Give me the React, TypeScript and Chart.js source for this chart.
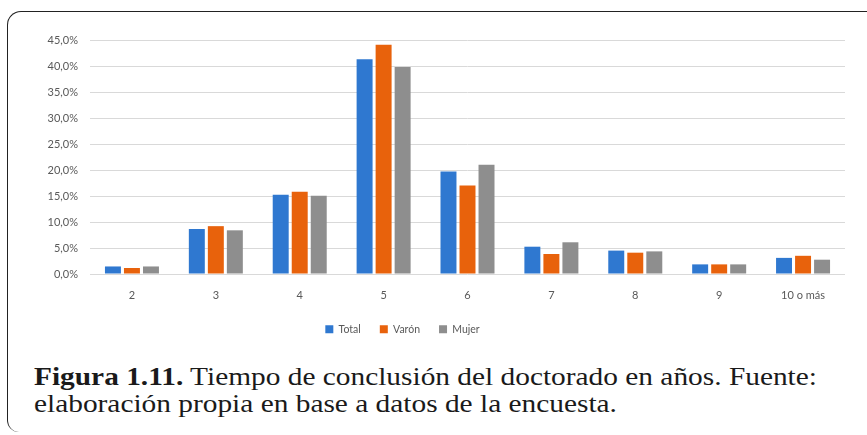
import React, { useEffect, useLayoutEffect, useRef } from "react";
import { Chart, registerables } from "chart.js";

Chart.register(...registerables);

const categories = ["2", "3", "4", "5", "6", "7", "8", "9", "10 o más"];
const totalValues = [1.45, 8.65, 15.25, 41.3, 19.7, 5.25, 4.5, 1.85, 3.1];
const varonValues = [1.15, 9.2, 15.8, 44.1, 17.0, 3.85, 4.1, 1.85, 3.5];
const mujerValues = [1.45, 8.4, 15.05, 39.8, 21.0, 6.1, 4.35, 1.85, 2.75];
const seriesNames = ["Total", "Varón", "Mujer"];
const seriesColors = ["#2F78D0", "#E8620C", "#8E8E8E"];
const yMin = 0;
const yMax = 45;
const yStep = 5;

const captionBold = "Figura 1.11.";
const captionLine1 = " Tiempo de conclusión del doctorado en años. Fuente:";
const captionLine2 = "elaboración propia en base a datos de la encuesta.";

const legendShift = {
  id: "legendShift",
  afterLayout(chart: any) {
    const lg = chart.legend;
    if (lg) {
      lg.left -= 20;
      lg.right -= 20;
      lg.top -= 1;
      lg.bottom -= 1;
    }
  },
};

export default function App() {
  const canvasRef = useRef<HTMLCanvasElement | null>(null);
  const captionRef = useRef<HTMLDivElement | null>(null);
  const line1Ref = useRef<HTMLSpanElement | null>(null);

  useLayoutEffect(() => {
    const el = line1Ref.current;
    const box = captionRef.current;
    if (!el || !box) return;
    box.style.transform = "none";
    const w = el.getBoundingClientRect().width;
    const target = 783;
    box.style.transformOrigin = "0 0";
    box.style.transform = "scaleX(" + (target / w).toFixed(4) + ")";
  }, []);

  useEffect(() => {
    const canvas = canvasRef.current;
    if (!canvas) return;
    const values = [totalValues, varonValues, mujerValues];
    const chart = new Chart(canvas, {
      type: "bar",
      data: {
        labels: categories,
        datasets: seriesNames.map((name, i) => ({
          label: name,
          data: values[i],
          backgroundColor: seriesColors[i],
          borderWidth: 0,
          categoryPercentage: 0.68,
          barPercentage: 0.84,
        })),
      },
      options: {
        animation: false,
        responsive: false,
        maintainAspectRatio: false,
        devicePixelRatio: 1,
        layout: { padding: { left: 0, top: 40, right: 22, bottom: 4.5 } },
        plugins: {
          legend: {
            position: "bottom",
            labels: {
              boxWidth: 8,
              boxHeight: 8,
              padding: 19,
              color: "#595959",
              font: { family: "Lato", size: 10.5 },
            },
          },
          tooltip: { enabled: false },
          title: { display: false },
        },
        scales: {
          x: {
            grid: { display: false, drawTicks: false },
            border: { display: false },
            ticks: {
              color: "#595959",
              font: { family: "Lato", size: 11 },
              padding: 15,
              maxRotation: 0,
              autoSkip: false,
            },
            afterFit: (s: any) => {
              s.height = 32;
            },
          },
          y: {
            min: yMin,
            max: yMax,
            grid: { color: "#D9D9D9", lineWidth: 1, drawTicks: false },
            border: { display: false },
            ticks: {
              stepSize: yStep,
              color: "#595959",
              font: { family: "Lato", size: 11 },
              padding: 12,
              callback: (v: any) => Number(v).toFixed(1).replace(".", ",") + "%",
            },
            afterFit: (s: any) => {
              s.width = 90;
            },
          },
        },
      },
      plugins: [legendShift],
    });
    return () => chart.destroy();
  }, []);

  return (
    <div
      style={{
        position: "absolute",
        left: 0,
        top: 0,
        width: 867,
        height: 435,
        overflow: "hidden",
        background: "#ffffff",
      }}
    >
      <div
        style={{
          position: "absolute",
          left: 7,
          top: 11,
          width: 880,
          height: 421,
          borderLeft: "1.5px solid #222",
          borderTop: "1.5px solid #222",
          borderTopLeftRadius: 14,
          borderBottomLeftRadius: 12,
          boxSizing: "border-box",
        }}
      />
      <canvas
        ref={canvasRef}
        width={867}
        height={350}
        style={{ position: "absolute", left: 0, top: 0, width: 867, height: 350 }}
      />
      <div
        ref={captionRef}
        style={{
          position: "absolute",
          left: 34,
          top: 363,
          fontFamily: "'Liberation Serif', serif",
          fontSize: 26,
          lineHeight: "27px",
          color: "#1a1a1a",
          whiteSpace: "nowrap",
        }}
      >
        <div>
          <span ref={line1Ref}>
            <b>{captionBold}</b>
            {captionLine1}
          </span>
        </div>
        <div>{captionLine2}</div>
      </div>
    </div>
  );
}
